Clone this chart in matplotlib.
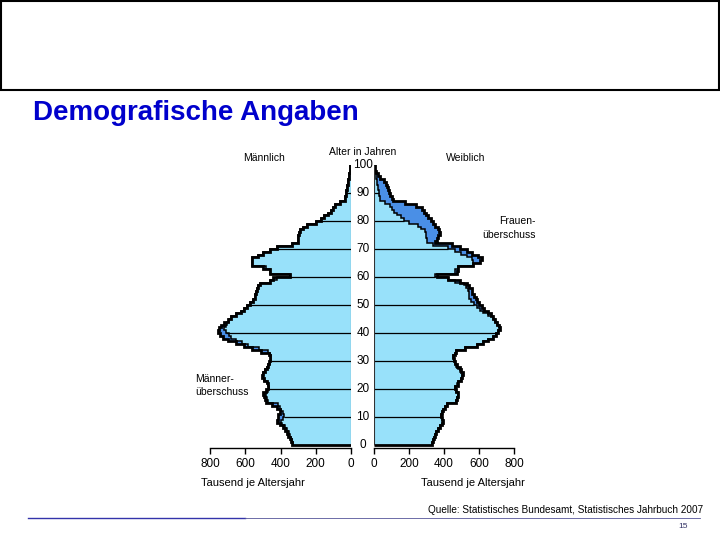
import numpy as np
import matplotlib
matplotlib.use("Agg")
import matplotlib.pyplot as plt
from matplotlib.transforms import blended_transform_factory
from matplotlib.patches import Rectangle
from matplotlib.lines import Line2D

plt.rcParams['font.family'] = ['Liberation Sans', 'DejaVu Sans']

# ---- data: population in thousands per single year of age (0..99) ----
ages = np.arange(0, 100)
male = [336, 343, 348, 355, 365, 372, 384, 405, 420, 415,
        412, 405, 403, 420, 450, 485, 490, 495, 497, 480,
        470, 472, 478, 495, 507, 500, 490, 478, 469, 466,
        462, 460, 468, 510, 560, 605, 655, 700, 725, 742,
        753, 748, 735, 720, 700, 680, 650, 625, 605, 590,
        573, 555, 545, 542, 540, 535, 528, 516, 460, 440,
        346, 460, 460, 500, 563, 563, 560, 530, 497, 460,
        421, 336, 300, 300, 299, 295, 289, 270, 252, 200,
        170, 155, 130, 115, 100, 92, 60, 34, 32, 30,
        27, 24, 20, 17, 15, 12, 10, 8, 6, 4]
female = [330, 336, 342, 348, 354, 365, 377, 390, 396, 388,
          381, 388, 396, 405, 415, 470, 474, 480, 482, 470,
          463, 478, 482, 495, 501, 510, 495, 491, 472, 462,
          455, 453, 462, 470, 520, 587, 620, 653, 680, 695,
          710, 720, 712, 701, 690, 680, 670, 653, 630, 615,
          600, 587, 580, 570, 560, 558, 545, 530, 491, 420,
          358, 472, 480, 482, 567, 606, 615, 596, 558, 530,
          491, 444, 350, 360, 367, 377, 370, 367, 350, 339,
          325, 310, 295, 285, 272, 240, 177, 107, 100, 91,
          88, 82, 75, 68, 55, 35, 20, 12, 7, 4]
age_ticks = [0, 10, 20, 30, 40, 50, 60, 70, 80, 90, 100]
grid_ages = [10, 20, 30, 40, 50, 60, 70, 80, 90]
x_ticks = [0, 200, 400, 600, 800]

LIGHT = '#98E1FA'
DARK = '#4A8FE6'

W, H = 720, 540
fig = plt.figure(figsize=(7.2, 5.4), dpi=100)

def fx(x):
    return x / W

def fy(y):
    return 1 - y / H

m = np.array(male, dtype=float)
f = np.array(female, dtype=float)
lo = np.minimum(m, f)
edges = np.arange(0, 101)

y_bot, y_top = 448, 165
age_bottom = (445 - y_bot) / 2.8
ax_m = fig.add_axes([fx(210), fy(y_bot), (351 - 210) / W, (y_bot - y_top) / H])
ax_f = fig.add_axes([fx(374), fy(y_bot), (514 - 374) / W, (y_bot - y_top) / H])

for ax, outer in ((ax_m, m), (ax_f, f)):
    ax.barh(ages, outer, height=1, align='edge', color=DARK, linewidth=0)
    ax.barh(ages, lo, height=1, align='edge', color=LIGHT, linewidth=0)
    ax.stairs(lo, edges, orientation='horizontal', baseline=None,
              color='black', lw=1.1)
    ax.stairs(outer, edges, orientation='horizontal', baseline=0,
              color='black', lw=2.0)
    for g in grid_ages:
        ax.hlines(g, 0, lo[g], color='black', lw=0.9)
    ax.vlines(0, 0, 100, color='#333333', lw=0.8)
    ax.set_ylim(age_bottom, 100)
    ax.set_yticks([])
    for s in ('top', 'left', 'right'):
        ax.spines[s].set_visible(False)
    ax.spines['bottom'].set_bounds(0, 800)
    ax.spines['bottom'].set_linewidth(1.0)
    ax.set_xticks(x_ticks)
    ax.set_xticklabels([str(t) for t in x_ticks])
    ax.tick_params(axis='x', direction='out', length=4, width=1,
                   labelsize=8.5, pad=3)
    ax.patch.set_visible(False)

ax_m.set_xlim(800, 0)
ax_f.set_xlim(0, 800)

# age labels in the middle
tr = blended_transform_factory(fig.transFigure, ax_f.transData)
for a in age_ticks:
    ax_f.text(fx(363), a, str(a), transform=tr, ha='center', va='center',
              fontsize=8.5, clip_on=False)

# chart annotations
fig.text(fx(363), fy(152), 'Alter in Jahren', ha='center', va='center', fontsize=7.5)
fig.text(fx(264), fy(158), 'Männlich', ha='center', va='center', fontsize=7.5)
fig.text(fx(466), fy(158), 'Weiblich', ha='center', va='center', fontsize=7.5)
fig.text(fx(536), fy(221), 'Frauen-', ha='right', va='center', fontsize=7.5)
fig.text(fx(536), fy(235), 'überschuss', ha='right', va='center', fontsize=7.5)
fig.text(fx(195), fy(379), 'Männer-', ha='left', va='center', fontsize=7.5)
fig.text(fx(195), fy(392), 'überschuss', ha='left', va='center', fontsize=7.5)
fig.text(fx(253), fy(483), 'Tausend je Altersjahr', ha='center', va='center', fontsize=8)
fig.text(fx(473), fy(483), 'Tausend je Altersjahr', ha='center', va='center', fontsize=8)

# slide decorations
fig.add_artist(Rectangle((fx(1), fy(90)), (718) / W, 89 / H, transform=fig.transFigure,
                         fill=False, ec='black', lw=1.5))
fig.text(fx(33), fy(113), 'Demografische Angaben', ha='left', va='center',
         fontsize=20, fontweight='bold', color='#0000CC')
fig.add_artist(Line2D([fx(28), fx(245)], [fy(517.5), fy(517.5)],
                      transform=fig.transFigure, color='#3333AA', lw=1.0))
fig.add_artist(Line2D([fx(245), fx(700)], [fy(517.5), fy(517.5)],
                      transform=fig.transFigure, color='#555599', lw=0.6))
fig.text(fx(703), fy(510), 'Quelle: Statistisches Bundesamt, Statistisches Jahrbuch 2007',
         ha='right', va='center', fontsize=7.2)
fig.text(fx(688), fy(526), '15', ha='right', va='center', fontsize=6, color='#333366')

fig.savefig('out.png', dpi=100)
